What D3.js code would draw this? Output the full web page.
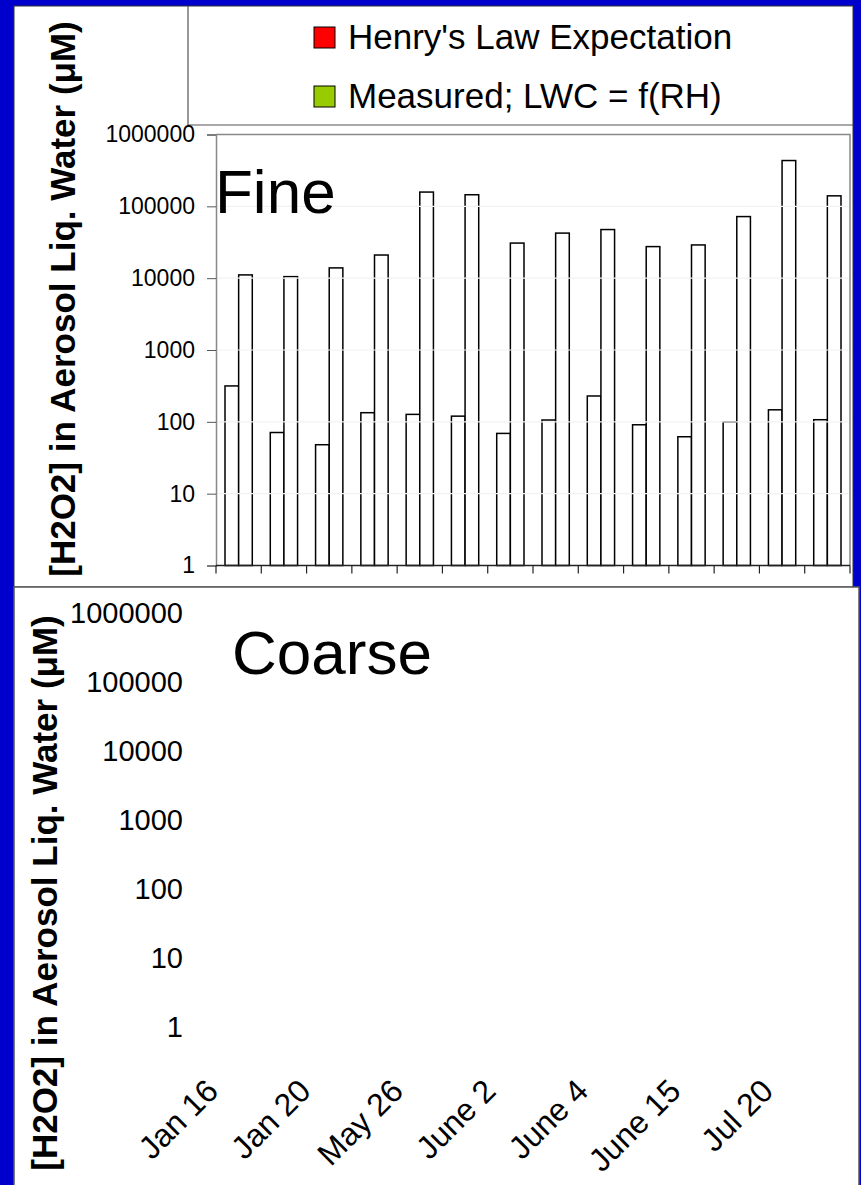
<!DOCTYPE html>
<html>
<head>
<meta charset="utf-8">
<script src="https://cdn.jsdelivr.net/npm/d3@7"></script>
<style>
  body { margin: 0; background: #0000cc; }
  svg { display: block; }
  text { font-family: Arial, "Liberation Sans", sans-serif; }
</style>
</head>
<body>
<div id="chart"></div>
<script>
// data
const dates = ["Jan 16", "Jan 20", "May 26", "June 2", "June 4", "June 15", "Jul 20"];
const fineSamples = ["1", "2", "3", "4", "5", "6", "7", "8", "9", "10", "11", "12", "13", "14"];
const henryFine = [316, 71, 48, 134, 127, 120, 69, 106, 229, 91, 62, 100, 147, 107];
const measuredFine = [11100, 10500, 13900, 21000, 158000, 145000, 30800, 42400, 47500, 27500, 29000, 72000, 434000, 140000];
const seriesNames = ["Henry's Law Expectation", "Measured; LWC = f(RH)"];
const seriesColors = ["#ff0000", "#99cc00"];
const yTicks = [1, 10, 100, 1000, 10000, 100000, 1000000];
const yTitle = "[H2O2] in Aerosol Liq. Water (\u03bcM)";

const W = 861, H = 1185;
const svg = d3.select("#chart").append("svg")
  .attr("width", W).attr("height", H);

svg.append("rect").attr("width", W).attr("height", H).attr("fill", "#0000cc");

// white panels
svg.append("rect").attr("x", 14).attr("y", 6).attr("width", 839).attr("height", 581)
  .attr("fill", "#fff").attr("stroke", "#333").attr("stroke-width", 1);
svg.append("rect").attr("x", 14).attr("y", 587).attr("width", 845).attr("height", 600)
  .attr("fill", "#fff").attr("stroke", "#555").attr("stroke-width", 1.5);

//--------------------------- top panel (Fine)
const plot = {left: 216, right: 850, top: 134.5, bottom: 565.5};

const x = d3.scaleBand().domain(fineSamples).range([plot.left, plot.right]);
const xs = d3.scaleBand().domain([0, 1]).range([0, x.bandwidth()]).paddingOuter(0.66).paddingInner(0);
const y = d3.scaleLog().domain([1, 1e6]).range([plot.bottom, plot.top]);

// legend box
svg.append("path")
  .attr("d", `M188,6V125H853`)
  .attr("fill", "none").attr("stroke", "#555").attr("stroke-width", 1.2);

const leg = svg.append("g");
seriesNames.forEach((name, i) => {
  const ly = [27, 86][i];
  leg.append("rect").attr("x", 314).attr("y", ly).attr("width", 21).attr("height", 21)
    .attr("fill", seriesColors[i]).attr("stroke", "#000").attr("stroke-width", 1);
  leg.append("text").attr("x", 348).attr("y", ly + 22)
    .attr("font-size", 35).attr("fill", "#000").text(name);
});

// plot frame
svg.append("path")
  .attr("d", `M${plot.left},${plot.top}H${plot.right}V${plot.bottom}`)
  .attr("fill", "none").attr("stroke", "#888").attr("stroke-width", 1.5);

// bars (drawn white with black outline as in the picture)
const groups = svg.append("g").selectAll("g")
  .data(fineSamples)
  .join("g")
  .attr("transform", d => `translate(${x(d)},0)`);

groups.each(function(d, i) {
  const vals = [henryFine[i], measuredFine[i]];
  d3.select(this).selectAll("rect")
    .data(vals)
    .join("rect")
    .attr("x", (v, j) => xs(j))
    .attr("width", xs.bandwidth())
    .attr("y", v => y(v))
    .attr("height", v => plot.bottom - y(v))
    .attr("fill", "#fff")
    .attr("stroke", "#000")
    .attr("stroke-width", 1.5);
});

// gridlines, only visible where they cross bar outlines
svg.append("g").selectAll("line")
  .data(yTicks.slice(1, -1))
  .join("line")
  .attr("x1", plot.left + 1).attr("x2", plot.right - 1)
  .attr("y1", d => y(d)).attr("y2", d => y(d))
  .attr("stroke", "#f2f2f2").attr("stroke-width", 1.2);

// y axis
const yAxis = svg.append("g")
  .attr("transform", `translate(${plot.left},0)`)
  .call(d3.axisLeft(y).tickValues(yTicks).tickFormat(d3.format("d")).tickSize(9).tickPadding(12));
yAxis.select(".domain").attr("stroke", "#888").attr("stroke-width", 1.5);
yAxis.selectAll(".tick line").attr("stroke", "#555");
yAxis.selectAll("text").attr("font-size", 23).attr("fill", "#000")
  .style("font-family", "Arial, 'Liberation Sans', sans-serif");

// x axis (no labels)
const xAxis = svg.append("g")
  .attr("transform", `translate(0,${plot.bottom})`);
xAxis.append("line").attr("x1", plot.left).attr("x2", plot.right)
  .attr("stroke", "#222").attr("stroke-width", 1.5);
xAxis.selectAll(".tk")
  .data(fineSamples.concat(["end"]))
  .join("line")
  .attr("class", "tk")
  .attr("x1", (d, i) => plot.left + i * x.step())
  .attr("x2", (d, i) => plot.left + i * x.step())
  .attr("y1", 0).attr("y2", 8)
  .attr("stroke", "#222").attr("stroke-width", 1.2);

svg.append("text").attr("x", 215).attr("y", 213)
  .attr("font-size", 62).attr("fill", "#000").text("Fine");

svg.append("text")
  .attr("transform", "translate(75,299) rotate(-90)")
  .attr("text-anchor", "middle")
  .attr("font-size", 35).attr("font-weight", "bold").attr("fill", "#000")
  .text(yTitle);

//--------------------------- bottom panel (Coarse)
const y2 = d3.scaleLog().domain([1, 1e6]).range([1027, 613]);
const x2 = d3.scaleBand().domain(dates).range([173.75, 821.25]);

const y2Axis = svg.append("g")
  .attr("transform", "translate(190,0)")
  .call(d3.axisLeft(y2).tickValues(yTicks).tickFormat(d3.format("d")).tickSize(0).tickPadding(7));
y2Axis.select(".domain").remove();
y2Axis.selectAll("text").attr("font-size", 29).attr("fill", "#000")
  .style("font-family", "Arial, 'Liberation Sans', sans-serif");

const x2Axis = svg.append("g")
  .attr("transform", "translate(0,1093)")
  .call(d3.axisBottom(x2).tickSize(0));
x2Axis.select(".domain").remove();
x2Axis.selectAll("text")
  .attr("x", 0).attr("y", 0).attr("dy", 0)
  .attr("transform", "rotate(-45)")
  .attr("text-anchor", "end")
  .attr("font-size", 32).attr("fill", "#000")
  .style("font-family", "Arial, 'Liberation Sans', sans-serif");

svg.append("text").attr("x", 232).attr("y", 674)
  .attr("font-size", 62).attr("fill", "#000").text("Coarse");

svg.append("text")
  .attr("transform", "translate(57,893) rotate(-90)")
  .attr("text-anchor", "middle")
  .attr("font-size", 35).attr("font-weight", "bold").attr("fill", "#000")
  .text(yTitle);
</script>
</body>
</html>
